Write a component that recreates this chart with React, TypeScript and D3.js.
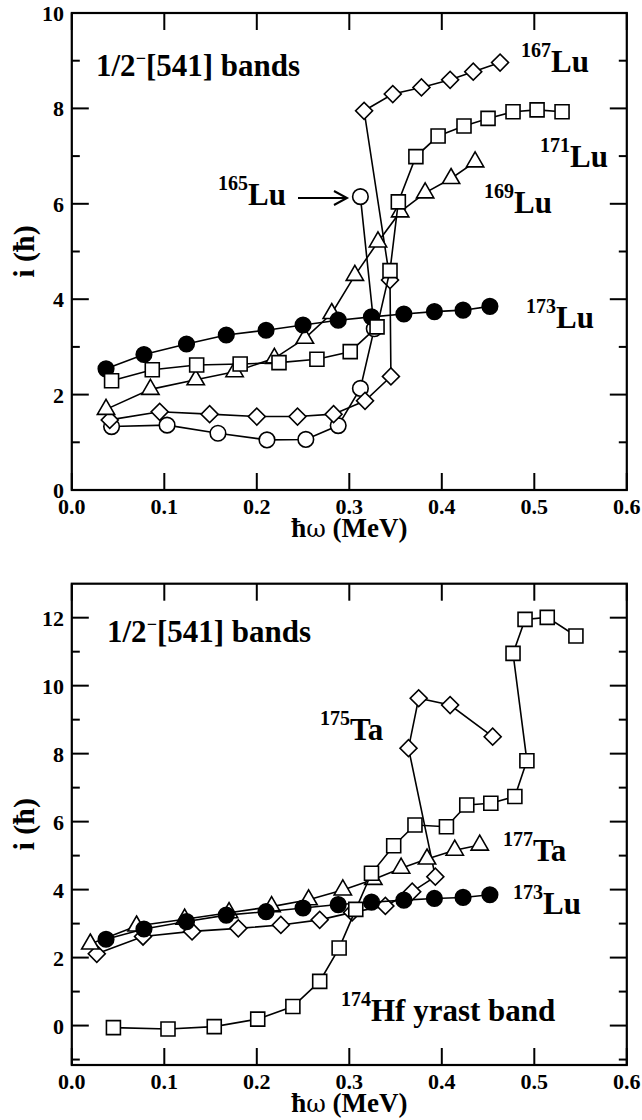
import React from "react";
import * as d3 from "d3";

type Pt = [number, number];

// top panel: 1/2-[541] bands in Lu isotopes
const lu165: Pt[] = [[0.043, 1.33], [0.103, 1.36], [0.158, 1.19], [0.211, 1.05], [0.253, 1.06], [0.288, 1.35], [0.312, 2.13], [0.327, 3.38], [0.312, 6.15]];
const lu167: Pt[] = [[0.041, 1.47], [0.095, 1.64], [0.149, 1.59], [0.2, 1.54], [0.244, 1.54], [0.283, 1.59], [0.317, 1.87], [0.345, 2.38], [0.344, 4.4], [0.316, 7.95], [0.347, 8.3], [0.378, 8.44], [0.409, 8.6], [0.434, 8.77], [0.463, 8.96]];
const lu169: Pt[] = [[0.037, 1.69], [0.085, 2.11], [0.134, 2.31], [0.176, 2.48], [0.219, 2.76], [0.252, 3.18], [0.281, 3.7], [0.306, 4.5], [0.331, 5.2], [0.355, 5.83], [0.382, 6.23], [0.41, 6.53], [0.436, 6.88]];
const lu171: Pt[] = [[0.043, 2.29], [0.087, 2.52], [0.135, 2.62], [0.182, 2.64], [0.224, 2.67], [0.265, 2.74], [0.301, 2.9], [0.33, 3.42], [0.344, 4.6], [0.353, 6.04], [0.372, 6.99], [0.396, 7.42], [0.424, 7.63], [0.45, 7.79], [0.477, 7.93], [0.503, 7.97], [0.53, 7.93]];
const lu173: Pt[] = [[0.037, 2.54], [0.078, 2.84], [0.124, 3.06], [0.167, 3.25], [0.21, 3.35], [0.25, 3.46], [0.288, 3.56], [0.324, 3.63], [0.359, 3.69], [0.392, 3.74], [0.423, 3.77], [0.452, 3.85]];

// bottom panel
const ta175: Pt[] = [[0.027, 2.11], [0.077, 2.62], [0.13, 2.77], [0.18, 2.86], [0.226, 2.96], [0.268, 3.11], [0.303, 3.33], [0.339, 3.52], [0.368, 3.94], [0.393, 4.38], [0.364, 8.16], [0.375, 9.63], [0.409, 9.43], [0.455, 8.5]];
const ta177: Pt[] = [[0.02, 2.4], [0.07, 2.93], [0.122, 3.13], [0.17, 3.32], [0.216, 3.5], [0.256, 3.7], [0.293, 3.99], [0.326, 4.3], [0.356, 4.63], [0.384, 4.9], [0.414, 5.16], [0.441, 5.31]];
const hf174: Pt[] = [[0.045, -0.06], [0.104, -0.1], [0.154, -0.03], [0.201, 0.19], [0.239, 0.56], [0.268, 1.3], [0.289, 2.28], [0.307, 3.42], [0.324, 4.48], [0.348, 5.29], [0.371, 5.9], [0.405, 5.85], [0.427, 6.49], [0.453, 6.54], [0.479, 6.74], [0.492, 7.79], [0.477, 10.95], [0.49, 11.95], [0.514, 12.01], [0.545, 11.46]];

const xTicks = [0, 0.1, 0.2, 0.3, 0.4, 0.5, 0.6];
const yTicksTop = [0, 2, 4, 6, 8, 10];
const yMinorTop = [1, 3, 5, 7, 9];
const yTicksBottom = [0, 2, 4, 6, 8, 10, 12];
const yMinorBottom = [-1, 1, 3, 5, 7, 9, 11];

const FONT = '"Liberation Serif", "Times New Roman", Times, serif';
const X0 = 71.8;
const X1 = 626.8;

type Shape = "circle" | "filled" | "square" | "diamond" | "triangle";

const symbolPath = (shape: Shape) => {
  if (shape === "circle" || shape === "filled") return d3.symbol().type(d3.symbolCircle).size(190)();
  if (shape === "square") return d3.symbol().type(d3.symbolSquare).size(196)();
  if (shape === "diamond") return d3.symbol().type(d3.symbolSquare).size(144)();
  return d3.symbol().type(d3.symbolTriangle).size(130)();
};

const Series = ({ data, shape, x, y }: { data: Pt[]; shape: Shape; x: any; y: any }) => {
  const line = d3.line<Pt>().x((d) => x(d[0])).y((d) => y(d[1]));
  const p = symbolPath(shape);
  return (
    <g>
      <path d={line(data) || ""} fill="none" stroke="#000" strokeWidth={1.6} />
      {data.map((d, i) => (
        <path
          key={i}
          d={p || ""}
          transform={`translate(${x(d[0])},${y(d[1])})${shape === "diamond" ? " rotate(45)" : ""}`}
          fill={shape === "filled" ? "#000" : "#fff"}
          stroke="#000"
          strokeWidth={1.6}
        />
      ))}
    </g>
  );
};

const Iso = ({ x, y, mass, sym, rest }: { x: number; y: number; mass: string; sym: string; rest?: string }) => (
  <text x={x} y={y} fontWeight="bold" fontSize={31}>
    <tspan fontSize={20} dy={-15}>{mass}</tspan>
    <tspan dy={15}>{sym}</tspan>
    {rest ? <tspan>{rest}</tspan> : null}
  </text>
);

const Panel = ({ top, bottom, yDomain, yTicks, yMinor, children }: any) => {
  const x = d3.scaleLinear().domain([0, 0.6]).range([X0, X1]);
  const y = d3.scaleLinear().domain(yDomain).range([bottom, top]);
  const mid = (top + bottom) / 2;
  const inY = (t: number) => y(t) >= top && y(t) <= bottom;
  return (
    <g>
      {yTicks.map((t: number) => (
        <g key={"y" + t}>
          <line x1={X0} x2={X0 + 17} y1={y(t)} y2={y(t)} stroke="#000" strokeWidth={2} />
          <line x1={X1} x2={X1 - 17} y1={y(t)} y2={y(t)} stroke="#000" strokeWidth={2} />
          <text x={64} y={y(t) + 8} textAnchor="end" fontWeight="bold" fontSize={22}>{t}</text>
        </g>
      ))}
      {yMinor.filter(inY).map((t: number) => (
        <g key={"m" + t}>
          <line x1={X0} x2={X0 + 8} y1={y(t)} y2={y(t)} stroke="#000" strokeWidth={2} />
          <line x1={X1} x2={X1 - 8} y1={y(t)} y2={y(t)} stroke="#000" strokeWidth={2} />
        </g>
      ))}
      {xTicks.map((t) => (
        <g key={"x" + t}>
          <line x1={x(t)} x2={x(t)} y1={bottom} y2={bottom - 17} stroke="#000" strokeWidth={2} />
          <line x1={x(t)} x2={x(t)} y1={top} y2={top + 17} stroke="#000" strokeWidth={2} />
          <text x={x(t)} y={bottom + 24} textAnchor="middle" fontWeight="bold" fontSize={22}>{t.toFixed(1)}</text>
        </g>
      ))}
      <rect x={X0} y={top} width={X1 - X0} height={bottom - top} fill="none" stroke="#000" strokeWidth={2.2} />
      <text x={(X0 + X1) / 2} y={bottom + 47} textAnchor="middle" fontWeight="bold" fontSize={27}>
        ħ<tspan fontWeight="normal" fontFamily="'DejaVu Serif', serif" fontSize={24}>ω</tspan> (MeV)
      </text>
      <text transform={`translate(34,${mid}) rotate(-90)`} textAnchor="middle" fontWeight="bold" fontSize={30}>
        i (ħ)
      </text>
      {children(x, y)}
    </g>
  );
};

const Title = ({ x, y }: { x: number; y: number }) => (
  <text x={x} y={y} fontWeight="bold" fontSize={31}>
    1/2<tspan fontSize={18} dy={-12}>−</tspan><tspan dy={12}>[541] bands</tspan>
  </text>
);

export default function App() {
  return (
    <svg width={642} height={1120} style={{ position: "absolute", left: 0, top: 0, background: "#fff", fontFamily: FONT }}>
      <Panel top={13} bottom={490} yDomain={[0, 10]} yTicks={yTicksTop} yMinor={yMinorTop}>
        {(x: any, y: any) => (
          <g>
            <Series data={lu165} shape="circle" x={x} y={y} />
            <Series data={lu167} shape="diamond" x={x} y={y} />
            <Series data={lu169} shape="triangle" x={x} y={y} />
            <Series data={lu173} shape="filled" x={x} y={y} />
            <Series data={lu171} shape="square" x={x} y={y} />
            <Title x={96} y={76} />
            <Iso x={521} y={72} mass="167" sym="Lu" />
            <Iso x={540} y={167} mass="171" sym="Lu" />
            <Iso x={484} y={213} mass="169" sym="Lu" />
            <Iso x={526} y={328} mass="173" sym="Lu" />
            <Iso x={218} y={205} mass="165" sym="Lu" />
            <line x1={298} x2={347} y1={198} y2={198} stroke="#000" strokeWidth={2} />
            <path d="M334,191 L347,198 L334,205" fill="none" stroke="#000" strokeWidth={2} />
          </g>
        )}
      </Panel>
      <Panel top={583.7} bottom={1065} yDomain={[-1.16, 13]} yTicks={yTicksBottom} yMinor={yMinorBottom}>
        {(x: any, y: any) => (
          <g>
            <Series data={ta175} shape="diamond" x={x} y={y} />
            <Series data={ta177} shape="triangle" x={x} y={y} />
            <Series data={lu173} shape="filled" x={x} y={y} />
            <Series data={hf174} shape="square" x={x} y={y} />
            <Title x={107} y={642} />
            <Iso x={320} y={740} mass="175" sym="Ta" />
            <Iso x={503} y={861} mass="177" sym="Ta" />
            <Iso x={513} y={914} mass="173" sym="Lu" />
            <Iso x={341} y={1021} mass="174" sym="Hf" rest=" yrast band" />
          </g>
        )}
      </Panel>
    </svg>
  );
}
